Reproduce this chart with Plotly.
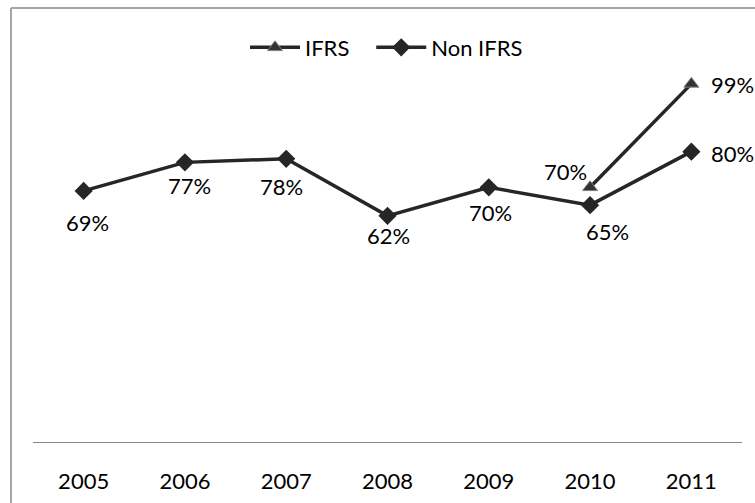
import plotly.graph_objects as go

years = ["2005", "2006", "2007", "2008", "2009", "2010", "2011"]
ifrs = [None, None, None, None, None, 70, 99]
non_ifrs = [69, 77, 78, 62, 70, 65, 80]
series_names = ["IFRS", "Non IFRS"]

# label offsets (style only): (xshift, yshift) in px
non_ifrs_offsets = [(4, -32), (5, -23), (-5, -28), (1, -20), (2, -25), (17, -26), (41, -2)]
ifrs_offsets = [None, None, None, None, None, (-25, 16), (41, -1)]

W, H = 755, 503
ML, MR, MT, MB = 33, 13, 9, 56
FONT = "Lato"
LINE_COLOR = "#262626"
NBSP = "\u00a0"

fig = go.Figure()
fig.add_trace(go.Scatter(
    x=years, y=ifrs, name=series_names[0] + NBSP * 3, mode="lines+markers",
    line=dict(color=LINE_COLOR, width=3.5),
    marker=dict(symbol="triangle-up", size=13, color="#333333",
                line=dict(color="#808080", width=1)),
    connectgaps=False,
))
fig.add_trace(go.Scatter(
    x=years, y=non_ifrs, name=series_names[1], mode="lines+markers",
    line=dict(color=LINE_COLOR, width=3.5),
    marker=dict(symbol="diamond", size=14, color=LINE_COLOR),
))

annotations = []
for i, (v, off) in enumerate(zip(non_ifrs, non_ifrs_offsets)):
    annotations.append(dict(x=i, y=v, xref="x", yref="y", text=f"{v}%", showarrow=False,
                            xshift=off[0], yshift=off[1],
                            font=dict(family=FONT, size=22, color="black")))
for i, (v, off) in enumerate(zip(ifrs, ifrs_offsets)):
    if v is None:
        continue
    annotations.append(dict(x=i, y=v, xref="x", yref="y", text=f"{v}%", showarrow=False,
                            xshift=off[0], yshift=off[1],
                            font=dict(family=FONT, size=22, color="black")))

pw = W - ML - MR
ph = H - MT - MB
# outer chart border (left and top visible)
bx = (11 - ML) / pw
by = 1 + (MT - 8) / ph
shapes = [
    dict(type="line", xref="paper", yref="paper", x0=bx, x1=bx, y0=by, y1=-1,
         line=dict(color="#a6a6a6", width=2)),
    dict(type="line", xref="paper", yref="paper", x0=bx, x1=2, y0=by, y1=by,
         line=dict(color="#a6a6a6", width=2)),
]

fig.update_layout(
    width=W, height=H,
    margin=dict(l=ML, r=MR, t=MT, b=MB),
    paper_bgcolor="white", plot_bgcolor="white",
    font=dict(family=FONT, size=22, color="black"),
    showlegend=True,
    annotations=annotations,
    shapes=shapes,
    legend=dict(orientation="h", x=(245 - ML) / pw, xanchor="left",
                y=1 - (48 - MT) / ph, yanchor="middle",
                font=dict(family=FONT, size=22, color="black"),
                bgcolor="rgba(0,0,0,0)", itemwidth=50,
                tracegroupgap=0),
    xaxis=dict(type="category", range=[-0.5, 6.5], showgrid=False, zeroline=False,
               showline=True, linecolor="#868686", linewidth=1, ticks="",
               tickfont=dict(family=FONT, size=22, color="black"),
               ticklabelstandoff=20, fixedrange=True),
    yaxis=dict(range=[-1.4, 120], visible=False, showgrid=False, zeroline=False,
               fixedrange=True),
)

fig.write_html("out.html", config={"displayModeBar": False},
               post_script="document.body.style.margin='0';")
